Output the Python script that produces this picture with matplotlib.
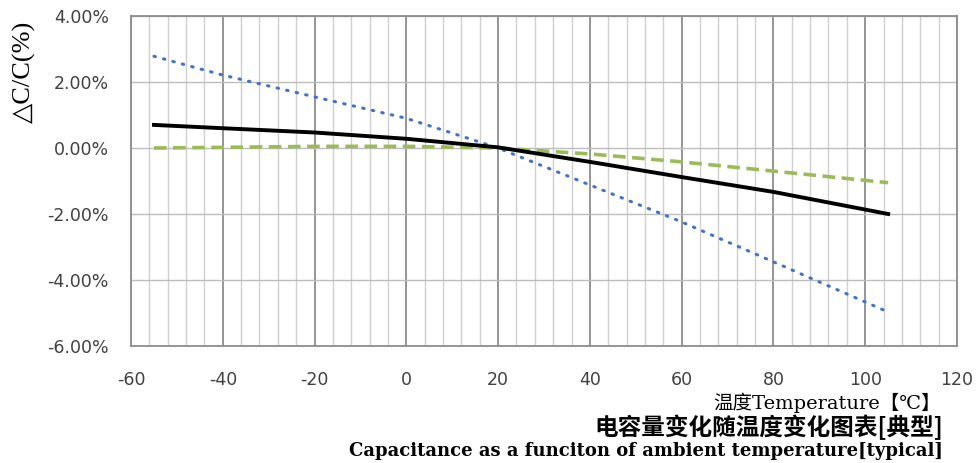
import numpy as np
import matplotlib.pyplot as plt
from matplotlib.ticker import MultipleLocator, FuncFormatter

plt.rcParams['axes.unicode_minus'] = False

# temperature points (degC)
temp = [-55, -40, -20, 0, 20, 40, 60, 80, 105]
# capacitance change in %
blue_vals = [2.78, 2.21, 1.55, 0.90, 0.00, -1.12, -2.24, -3.45, -4.97]
black_vals = [0.70, 0.60, 0.47, 0.28, 0.02, -0.42, -0.88, -1.33, -2.00]
green_vals = [0.00, 0.02, 0.05, 0.05, 0.00, -0.18, -0.42, -0.70, -1.05]

fig = plt.figure(figsize=(9.77, 4.63), dpi=100)
ax = fig.add_axes([0.1341, 0.2527, 0.8454, 0.7127])

ax.plot(temp, blue_vals, color='#4472C4', lw=2.2, linestyle=(0, (0.5, 2.7)),
        dash_capstyle='round', zorder=3)
ax.plot(temp, green_vals, color='#9BBB59', lw=2.6, linestyle=(0, (3.5, 1.8)), zorder=3)
ax.plot(temp, black_vals, color='black', lw=2.8, zorder=4)

ax.set_xlim(-60, 120)
ax.set_ylim(-6, 4)
ax.xaxis.set_major_locator(MultipleLocator(20))
ax.xaxis.set_minor_locator(MultipleLocator(4))
ax.yaxis.set_major_locator(MultipleLocator(2))
ax.yaxis.set_major_formatter(FuncFormatter(lambda v, p: '%.2f%%' % v))

ax.grid(which='major', axis='x', color='#8c8c8c', lw=1.3)
ax.grid(which='minor', axis='x', color='#cfcfcf', lw=1.0)
ax.grid(which='major', axis='y', color='#bdbdbd', lw=1.0)
ax.set_axisbelow(True)
for s in ax.spines.values():
    s.set_color('#8c8c8c')
    s.set_linewidth(1.3)

ax.tick_params(which='both', length=0, labelsize=12.5, colors='#404040')
ax.tick_params(axis='y', pad=16)
ax.tick_params(axis='x', pad=18)
for lab in ax.get_xticklabels() + ax.get_yticklabels():
    lab.set_family('DejaVu Sans')

ax.set_ylabel('△C/C(%)', family=['Liberation Serif', 'DejaVu Serif'], fontsize=19)
ax.yaxis.set_label_coords(-0.115, 0.83)

fig.text(0.963, 0.13, '温度Temperature【℃】', ha='right', va='center', fontsize=14,
         family=['DejaVu Serif', 'Noto Sans CJK SC'])
fig.text(0.965, 0.076, '电容量变化随温度变化图表[典型]', ha='right', va='center',
         fontsize=17, fontweight='bold', family=['Noto Sans CJK SC', 'DejaVu Sans'])
fig.text(0.965, 0.026, 'Capacitance as a funciton of ambient temperature[typical]',
         ha='right', va='center', fontsize=13, fontweight='bold',
         family=['DejaVu Serif'])

fig.savefig('out.png', dpi=100)
